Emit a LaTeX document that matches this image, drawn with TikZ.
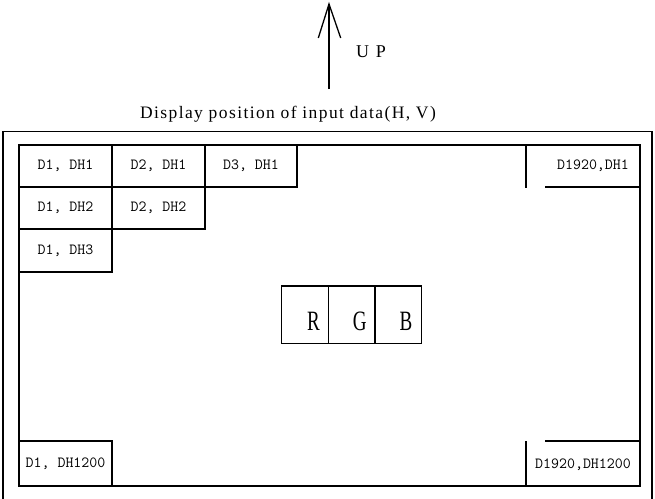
\documentclass[tikz,border=0pt]{standalone}
\usepackage{fontspec}
\setmainfont{Liberation Serif}
\newfontfamily\cellmono{Latin Modern Mono}
\newfontfamily\titleserif[LetterSpace=8]{Liberation Serif}
\begin{document}
\begin{tikzpicture}[x=1pt,y=-1pt,
  frame/.style={line width=1.3pt},
  cellbox/.style={draw, line width=1.3pt, minimum width=93pt, minimum height=42pt,
    inner sep=0pt, outer sep=0pt, anchor=north west, font=\cellmono\fontsize{15.5}{15.5}\selectfont},
  celltext/.style={inner sep=0pt, font=\cellmono\fontsize{15.5}{15.5}\selectfont},
  rgbbox/.style={draw, line width=1.3pt, minimum width=46.7pt, minimum height=57.3pt,
    inner sep=0pt, outer sep=0pt, anchor=north west},
  rgbtext/.style={inner sep=0pt, font=\fontsize{28}{28}\selectfont},
  label/.style={inner sep=0pt}]
\useasboundingbox (0,0) rectangle (655,498);
% outer frame
\draw[line width=1.2pt] (3,499) -- (3,131.5) -- (652,131.5) -- (652,499);
% inner frame
\draw[frame] (19,145) rectangle (640,486);
% cells
\node[cellbox] (c11) at (19,145) {D1, DH1};
\node[cellbox] (c21) at (112,145) {D2, DH1};
\node[cellbox, minimum width=92pt] (c31) at (205,145) {D3, DH1};
\node[cellbox] (c12) at (19,187) {D1, DH2};
\node[cellbox] (c22) at (112,187) {D2, DH2};
\node[cellbox, minimum height=43pt] (c13) at (19,229) {D1, DH3};
\node[cellbox, minimum height=45pt] (cbl) at (19,441) {D1, DH1200};
% right cells
\node[celltext] (ctr) at (593,166) {D1920,DH1};
\node[celltext] (cbr) at (583,465) {D1920,DH1200};
\draw[frame] (526,145) -- (526,188);
\draw[frame] (545,187) -- (640,187);
\draw[frame] (526,441) -- (526,486);
\draw[frame] (545,441) -- (640,441);
% RGB
\node[rgbbox] (r) at (281.7,286) {};
\node[rgbbox] (g) at (328.3,286) {};
\node[rgbbox] (b) at (375,286) {};
\node[rgbtext] (rt) at ([shift={(8.5,6.5)}]r.center) {\scalebox{0.68}[1]{R}};
\node[rgbtext] (gt) at ([shift={(8,6.5)}]g.center) {\scalebox{0.68}[1]{G}};
\node[rgbtext] (bt) at ([shift={(7.5,6.5)}]b.center) {\scalebox{0.68}[1]{B}};
% title
\node[label, font=\titleserif\fontsize{17.5}{17.5}\selectfont] (title) at (288,114) {Display position of input data(H, V)};
% up arrow
\coordinate (abase) at (329,89);
\coordinate (atip) at (329,4);
\draw[line width=1.3pt] (abase) -- (atip);
\draw[line width=1.3pt] (318.3,38) -- (atip) -- (340.7,38);
\node[label, font=\fontsize{18}{18}\selectfont] (up) at (371,52) {U\hspace{7pt}P};
\end{tikzpicture}
\end{document}
